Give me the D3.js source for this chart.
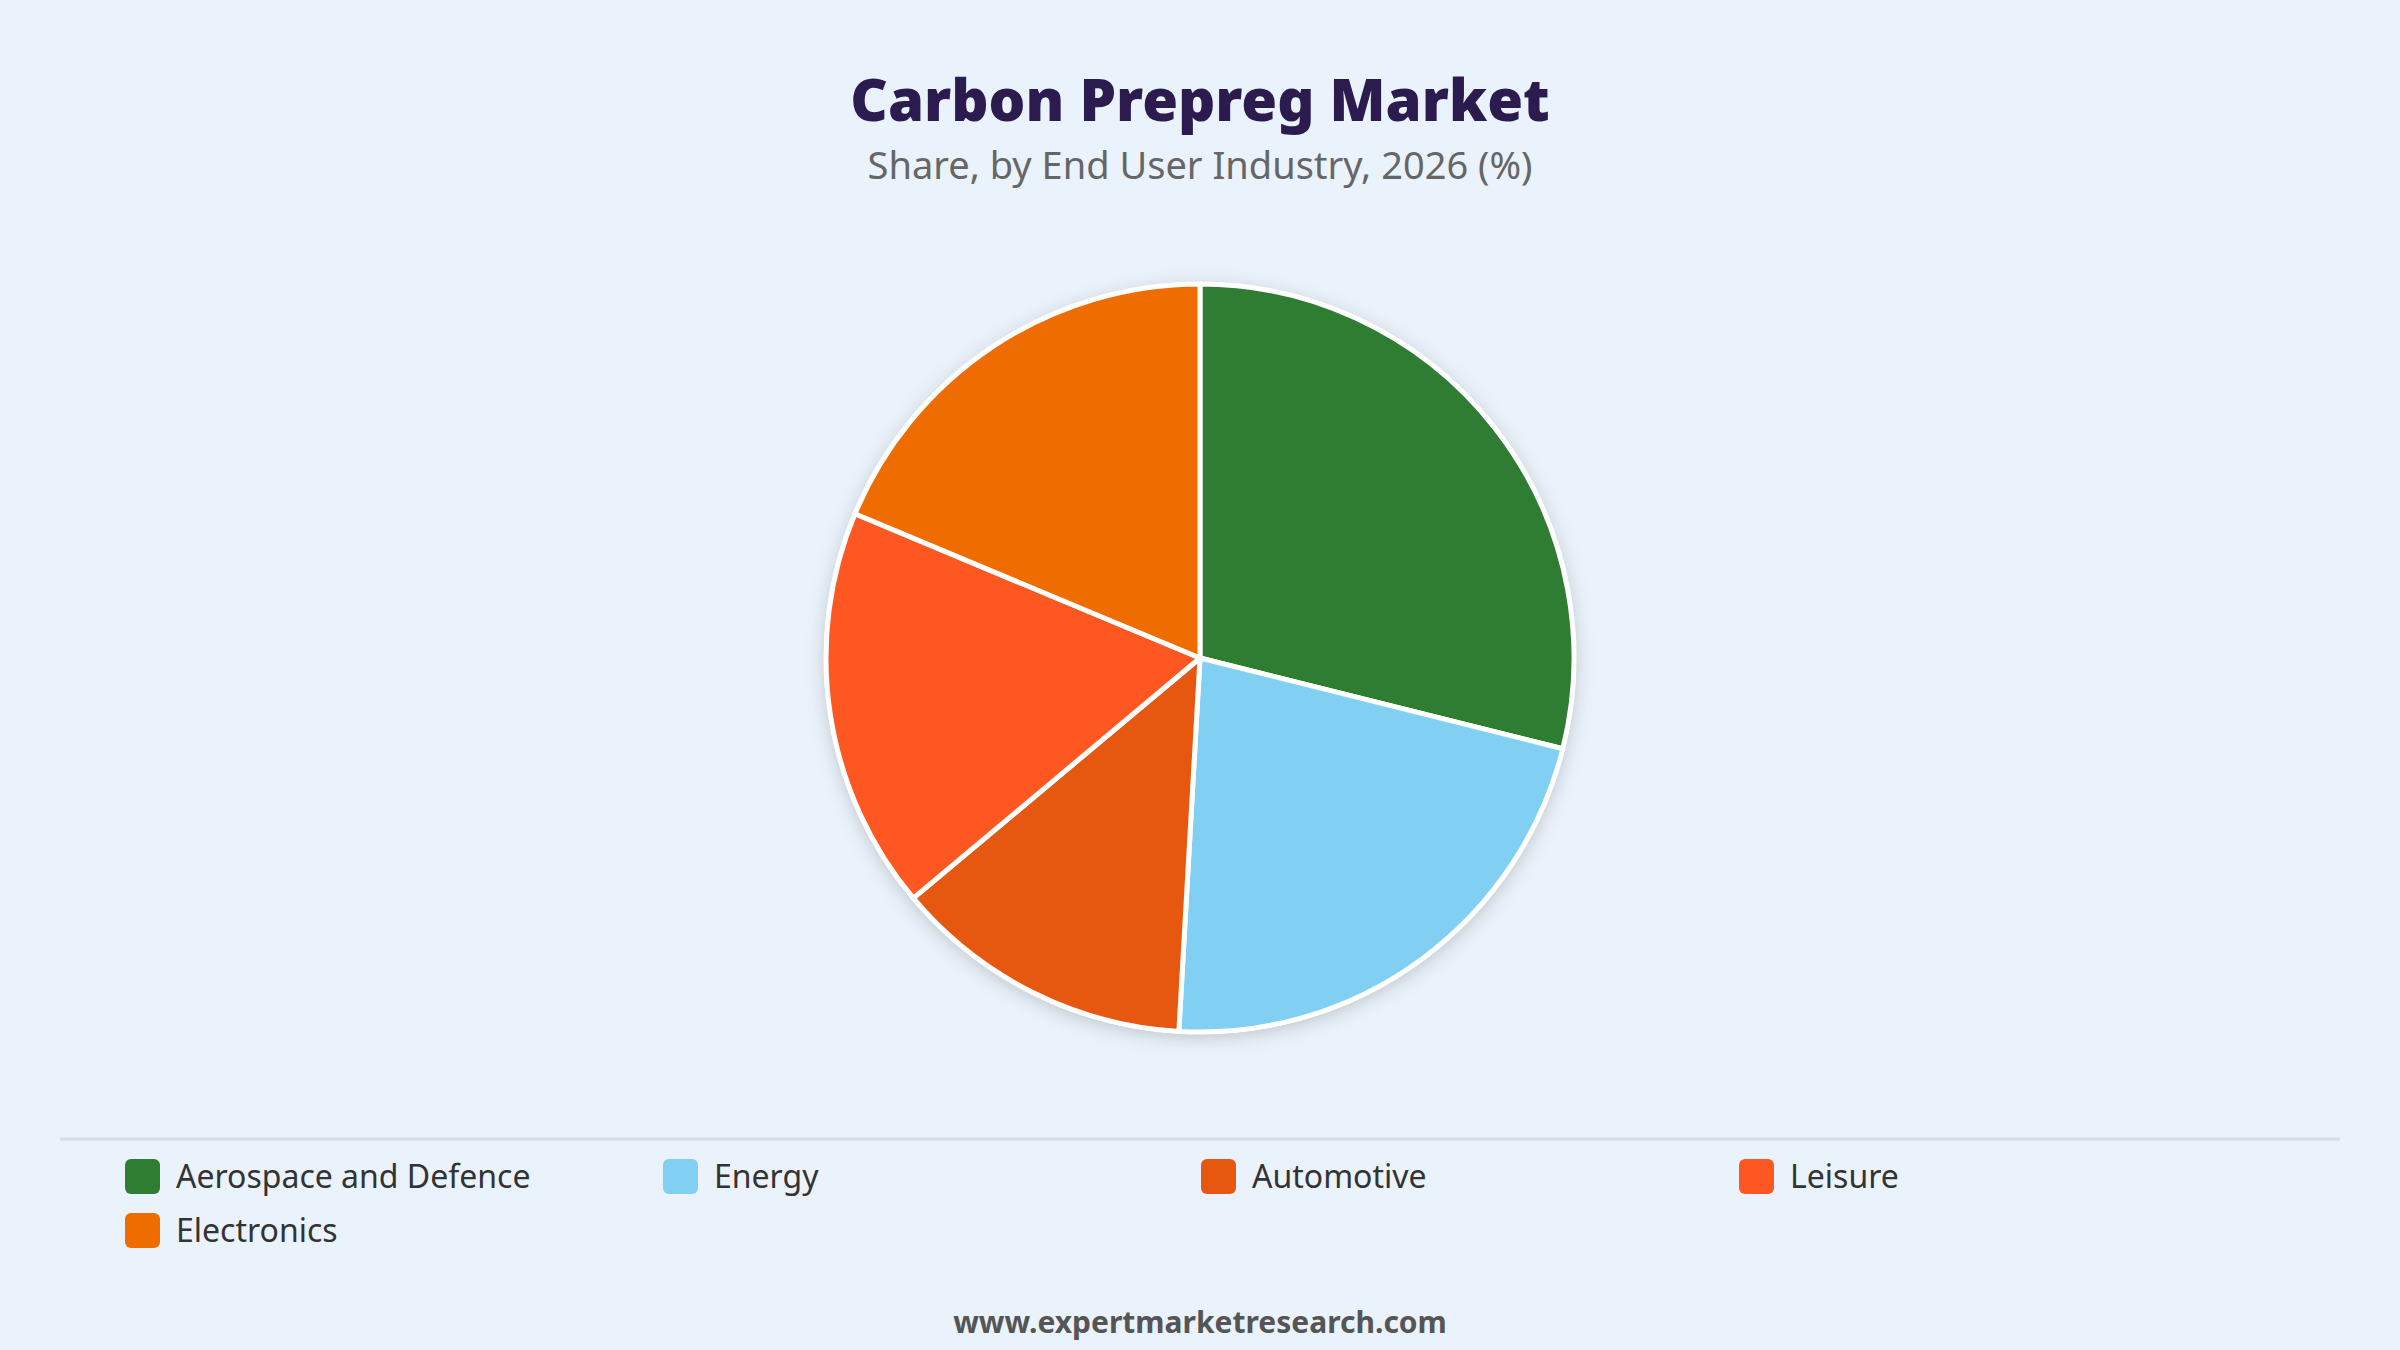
<!DOCTYPE html>
<html>
<head>
<meta charset="utf-8">
<script src="https://cdn.jsdelivr.net/npm/d3@7"></script>
<style>
  html, body { margin: 0; padding: 0; background: #eaf2fb; }
  svg { display: block; }
</style>
</head>
<body>
<div id="chart"></div>
<script>
// shares, clockwise from 12 o'clock
var categories = ["Aerospace and Defence", "Energy", "Automotive", "Leisure", "Electronics"];
var shares = [28.9, 22.0, 13.0, 17.4, 18.7];
var sliceColors = ["#2e7d32", "#81cff2", "#e6570f", "#ff5722", "#ef6c00"];

var title = "Carbon Prepreg Market";
var subtitle = "Share, by End User Industry, 2026 (%)";
var footer = "www.expertmarketresearch.com";

var width = 2400;
var height = 1350;
var font = "'Noto Sans', 'Open Sans', sans-serif";

var data = categories.map(function(c, i) {
    return { name: c, value: shares[i] };
});

var svg = d3.select("#chart").append("svg")
    .attr("width", width)
    .attr("height", height);

svg.append("rect").attr("width", width).attr("height", height).attr("fill", "#eaf2fb");

var defs = svg.append("defs");
var shadow = defs.append("filter").attr("id", "shadow")
    .attr("x", "-20%").attr("y", "-20%").attr("width", "140%").attr("height", "140%");
shadow.append("feDropShadow")
    .attr("dx", 0).attr("dy", 4)
    .attr("stdDeviation", 9)
    .attr("flood-color", "#000")
    .attr("flood-opacity", 0.18);

// titles
svg.append("text")
    .attr("x", width / 2).attr("y", 121)
    .attr("text-anchor", "middle")
    .attr("font-family", font)
    .attr("font-weight", 900)
    .attr("font-size", 58)
    .attr("fill", "#2b1b4e")
    .text(title);

svg.append("text")
    .attr("x", width / 2).attr("y", 179)
    .attr("text-anchor", "middle")
    .attr("font-family", font)
    .attr("font-size", 38)
    .attr("fill", "#666666")
    .text(subtitle);

// pie
var radius = 374;
var cx = 1200, cy = 658;

var color = d3.scaleOrdinal().domain(categories).range(sliceColors);

var pie = d3.pie().sort(null).value(function(d) { return d.value; });
var arc = d3.arc().innerRadius(0).outerRadius(radius);

var pieGroup = svg.append("g")
    .attr("transform", "translate(" + cx + "," + cy + ")");

pieGroup.append("circle")
    .attr("r", radius + 2)
    .attr("fill", "#ffffff")
    .attr("filter", "url(#shadow)");

pieGroup.selectAll("path")
    .data(pie(data)).enter().append("path")
    .attr("d", arc)
    .attr("fill", function(d) { return color(d.data.name); })
    .attr("stroke", "#ffffff")
    .attr("stroke-width", 5)
    .attr("stroke-linejoin", "round");

// separator
svg.append("line")
    .attr("x1", 60).attr("x2", 2340)
    .attr("y1", 1139).attr("y2", 1139)
    .attr("stroke", "#d9dde3")
    .attr("stroke-width", 3);

// legend, 4 per row
var legendX = d3.scalePoint().domain([0, 1, 2, 3]).range([125, 1739]);
var legendY = d3.scalePoint().domain([0, 1]).range([1176, 1230]);

var legend = svg.append("g").selectAll("g")
    .data(categories).enter().append("g")
    .attr("transform", function(d, i) {
        return "translate(" + legendX(i % 4) + "," + legendY(Math.floor(i / 4)) + ")";
    });

legend.append("rect")
    .attr("x", 0).attr("y", -17)
    .attr("width", 35).attr("height", 35)
    .attr("rx", 6)
    .attr("fill", function(d) { return color(d); });

legend.append("text")
    .attr("x", 51).attr("y", 3)
    .attr("dominant-baseline", "middle")
    .attr("font-family", font)
    .attr("font-size", 32)
    .attr("fill", "#333333")
    .text(function(d) { return d; });

// footer
svg.append("text")
    .attr("x", width / 2).attr("y", 1333)
    .attr("text-anchor", "middle")
    .attr("font-family", font)
    .attr("font-weight", 700)
    .attr("font-size", 30)
    .attr("fill", "#555555")
    .text(footer);
</script>
</body>
</html>
